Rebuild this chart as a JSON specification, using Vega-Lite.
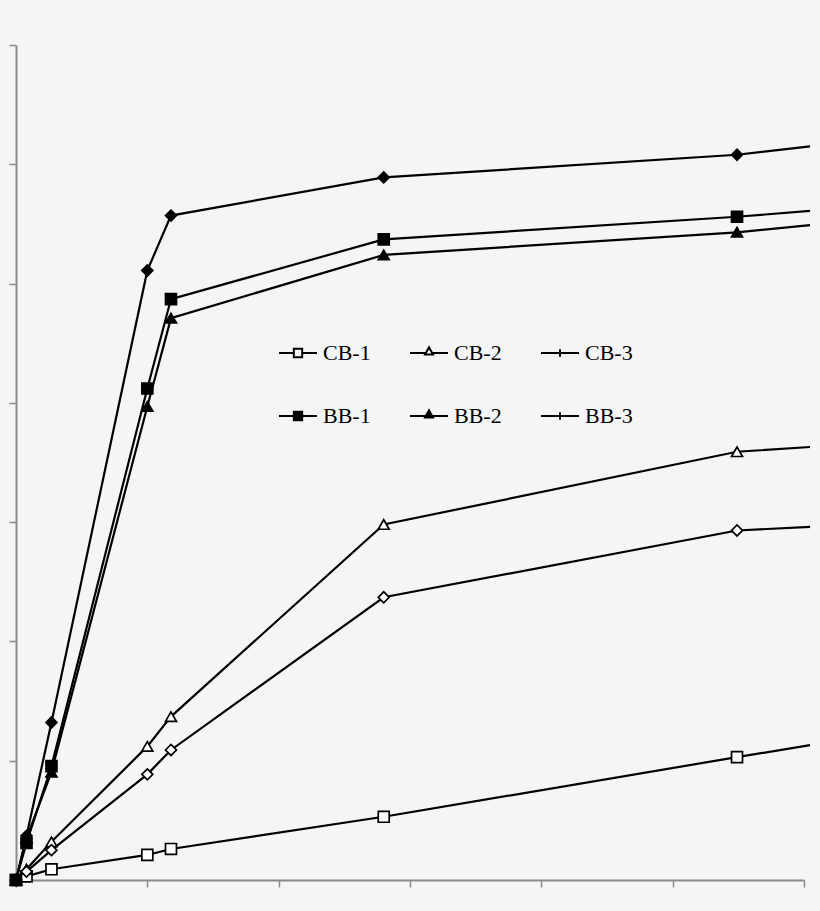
{
  "$schema": "https://vega.github.io/schema/vega-lite/v6.json",
  "width": 788,
  "height": 835,
  "autosize": "none",
  "padding": {"left": 16, "top": 45, "right": 16, "bottom": 31},
  "background": "#f5f5f5",
  "config": {"view": {"stroke": null}},
  "data": {"values": [
    {"series": "CB-1", "t": 0, "v": 0}, {"series": "CB-1", "t": 0.08, "v": 0.03}, {"series": "CB-1", "t": 0.27, "v": 0.09}, {"series": "CB-1", "t": 1.0, "v": 0.21},
    {"series": "CB-1", "t": 1.18, "v": 0.26}, {"series": "CB-1", "t": 2.8, "v": 0.53}, {"series": "CB-1", "t": 5.49, "v": 1.03}, {"series": "CB-1", "t": 6.046, "v": 1.13},
    {"series": "CB-2", "t": 0, "v": 0}, {"series": "CB-2", "t": 0.08, "v": 0.09}, {"series": "CB-2", "t": 0.27, "v": 0.32}, {"series": "CB-2", "t": 1.0, "v": 1.12},
    {"series": "CB-2", "t": 1.18, "v": 1.37}, {"series": "CB-2", "t": 2.8, "v": 2.98}, {"series": "CB-2", "t": 5.49, "v": 3.59}, {"series": "CB-2", "t": 6.046, "v": 3.63},
    {"series": "CB-3", "t": 0, "v": 0}, {"series": "CB-3", "t": 0.08, "v": 0.07}, {"series": "CB-3", "t": 0.27, "v": 0.25}, {"series": "CB-3", "t": 1.0, "v": 0.886},
    {"series": "CB-3", "t": 1.18, "v": 1.09}, {"series": "CB-3", "t": 2.8, "v": 2.37}, {"series": "CB-3", "t": 5.49, "v": 2.93}, {"series": "CB-3", "t": 6.046, "v": 2.96},
    {"series": "BB-1", "t": 0, "v": 0}, {"series": "BB-1", "t": 0.08, "v": 0.31}, {"series": "BB-1", "t": 0.27, "v": 0.955}, {"series": "BB-1", "t": 1.0, "v": 4.12},
    {"series": "BB-1", "t": 1.18, "v": 4.87}, {"series": "BB-1", "t": 2.8, "v": 5.37}, {"series": "BB-1", "t": 5.49, "v": 5.56}, {"series": "BB-1", "t": 6.046, "v": 5.61},
    {"series": "BB-2", "t": 0, "v": 0}, {"series": "BB-2", "t": 0.08, "v": 0.35}, {"series": "BB-2", "t": 0.27, "v": 0.905}, {"series": "BB-2", "t": 1.0, "v": 3.97},
    {"series": "BB-2", "t": 1.18, "v": 4.71}, {"series": "BB-2", "t": 2.8, "v": 5.24}, {"series": "BB-2", "t": 5.49, "v": 5.43}, {"series": "BB-2", "t": 6.046, "v": 5.49},
    {"series": "BB-3", "t": 0, "v": 0}, {"series": "BB-3", "t": 0.08, "v": 0.37}, {"series": "BB-3", "t": 0.27, "v": 1.32}, {"series": "BB-3", "t": 1.0, "v": 5.11},
    {"series": "BB-3", "t": 1.18, "v": 5.57}, {"series": "BB-3", "t": 2.8, "v": 5.89}, {"series": "BB-3", "t": 5.49, "v": 6.08}, {"series": "BB-3", "t": 6.046, "v": 6.15}
  ]},
  "encoding": {
    "x": {
      "field": "t", "type": "quantitative",
      "scale": {"domain": [0, 6], "nice": false, "zero": false},
      "axis": {
        "title": null, "labels": false, "grid": false,
        "values": [0, 1, 2, 3, 4, 5, 6],
        "domainColor": "#8a8a8a", "domainWidth": 2,
        "tickColor": "#8a8a8a", "tickWidth": 1.5, "tickSize": 7,
        "encode": {"ticks": {"update": {"y": {"value": -7}}}}
      }
    },
    "y": {
      "field": "v", "type": "quantitative",
      "scale": {"domain": [0, 7], "nice": false},
      "axis": {
        "title": null, "labels": false, "grid": false,
        "values": [0, 1, 2, 3, 4, 5, 6, 7],
        "domainColor": "#8a8a8a", "domainWidth": 2,
        "tickColor": "#8a8a8a", "tickWidth": 1.5, "tickSize": 7,
        "encode": {"ticks": {"update": {"x": {"value": 7}}}}
      }
    }
  },
  "layer": [
    {
      "mark": {"type": "line", "color": "black", "strokeWidth": 2.2},
      "encoding": {"detail": {"field": "series"}}
    },
    {
      "transform": [{"filter": "datum.t <= 6"}],
      "mark": {"type": "point", "filled": true, "size": 120, "stroke": "black", "strokeWidth": 1.7, "opacity": 1},
      "encoding": {
        "shape": {
          "field": "series",
          "scale": {"domain": ["CB-1", "CB-2", "CB-3", "BB-1", "BB-2", "BB-3"], "range": ["square", "triangle-up", "diamond", "square", "triangle-up", "diamond"]},
          "legend": null
        },
        "fill": {
          "field": "series",
          "scale": {"domain": ["CB-1", "CB-2", "CB-3", "BB-1", "BB-2", "BB-3"], "range": ["#ffffff", "#ffffff", "#ffffff", "#000000", "#000000", "#000000"]},
          "legend": null
        }
      }
    },
    {
      "transform": [{"filter": "datum.t < 0"}],
      "mark": {"type": "point", "filled": true, "stroke": "black", "strokeWidth": 2, "opacity": 1},
      "encoding": {
        "fill": {
          "field": "series",
          "scale": {"domain": ["CB-1", "CB-2", "CB-3", "BB-1", "BB-2", "BB-3"], "range": ["#f5f5f5", "#f5f5f5", "#f5f5f5", "#000000", "#000000", "#000000"]},
          "legend": {"title": null}
        },
        "shape": {
          "field": "series",
          "scale": {
            "domain": ["CB-1", "CB-2", "CB-3", "BB-1", "BB-2", "BB-3"],
            "range": [
              "M-1,0H-0.22M0.22,0H1M-0.22,-0.22H0.22V0.22H-0.22Z",
              "M-1,0H-0.17M0.17,0H1M0,-0.3L0.21,0.08H-0.21Z",
              "M-1,0H1M0,-0.2V0.2",
              "M-1,0H-0.22M0.22,0H1M-0.22,-0.22H0.22V0.22H-0.22Z",
              "M-1,0H-0.17M0.17,0H1M0,-0.3L0.21,0.08H-0.21Z",
              "M-1,0H1M0,-0.2V0.2"
            ]
          },
          "legend": {
            "title": null,
            "orient": "none",
            "legendX": 262,
            "legendY": 288,
            "direction": "horizontal",
            "columns": 3,
            "columnPadding": 35,
            "rowPadding": 32,
            "padding": 0,
            "symbolSize": 1444,
            "symbolStrokeWidth": 2,
            "symbolOpacity": 1,
            "labelFont": "Liberation Serif",
            "labelFontSize": 22,
            "labelColor": "black",
            "labelOffset": 5,
            "encode": {
              "symbols": {
                "stroke": {"value": "black"},
                "strokeWidth": {"value": 2},
                "opacity": {"value": 1}
              }
            }
          }
        }
      }
    }
  ],
  "resolve": {"scale": {"shape": "independent", "fill": "independent"}}
}
